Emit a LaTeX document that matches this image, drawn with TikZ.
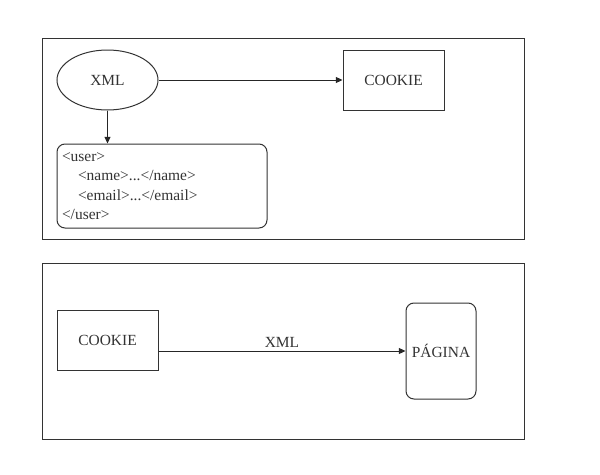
\documentclass[tikz,border=0pt]{standalone}
\usepackage{fontspec}
\setmainfont{Liberation Serif}
\usetikzlibrary{shapes.geometric, arrows.meta, positioning}

\begin{document}
\begin{tikzpicture}[
  x=0.75pt, y=-0.75pt, line width=0.75pt,
  every node/.style={font=\fontsize{11.6}{14.6}\selectfont, text=black!80},
  panel/.style={draw=black!80, minimum width=361.5pt, inner sep=0pt},
  box/.style={draw=black!80, minimum width=75.75pt, minimum height=45pt},
  oval/.style={draw=black!80, ellipse, minimum width=75.75pt, minimum height=45pt, inner sep=0pt},
  code/.style={draw=black!80, rounded corners=6pt, text width=150pt, inner sep=3.75pt, minimum height=63pt, align=left},
  page/.style={draw=black!80, rounded corners=6pt, minimum width=52.5pt, minimum height=72pt, inner sep=0pt},
  arrow/.style={-{Triangle[length=5pt, width=4.5pt]}, draw=black!85}]
  \useasboundingbox (0,0) rectangle (600,475);
  % top panel
  \node[panel, minimum height=150.75pt] (top) at (283,138.5) {};
  \node[oval] (xml) at (107.5,80) {XML};
  \node[box] (ck1) at (393.5,80) {COOKIE};
  \node[code] (user) at (162,186) {<user>\\
    \hspace*{12pt}<name>...</name>\\
    \hspace*{12pt}<email>...</email>\\
    </user>};
  \draw[arrow] (xml) -- (ck1);
  \draw[arrow] (xml.south) -- (xml.south |- user.north);
  % bottom panel
  \node[panel, minimum height=132pt] (bot) at (283,351) {};
  \node[box] (ck2) at (107.5,340) {COOKIE};
  \node[page] (pg) at (441,351) {PÁGINA};
  \draw[arrow] (ck2.east |- pg.west) -- node[midway, above, inner sep=2pt] (lbl) {XML} (pg.west);
\end{tikzpicture}
\end{document}
